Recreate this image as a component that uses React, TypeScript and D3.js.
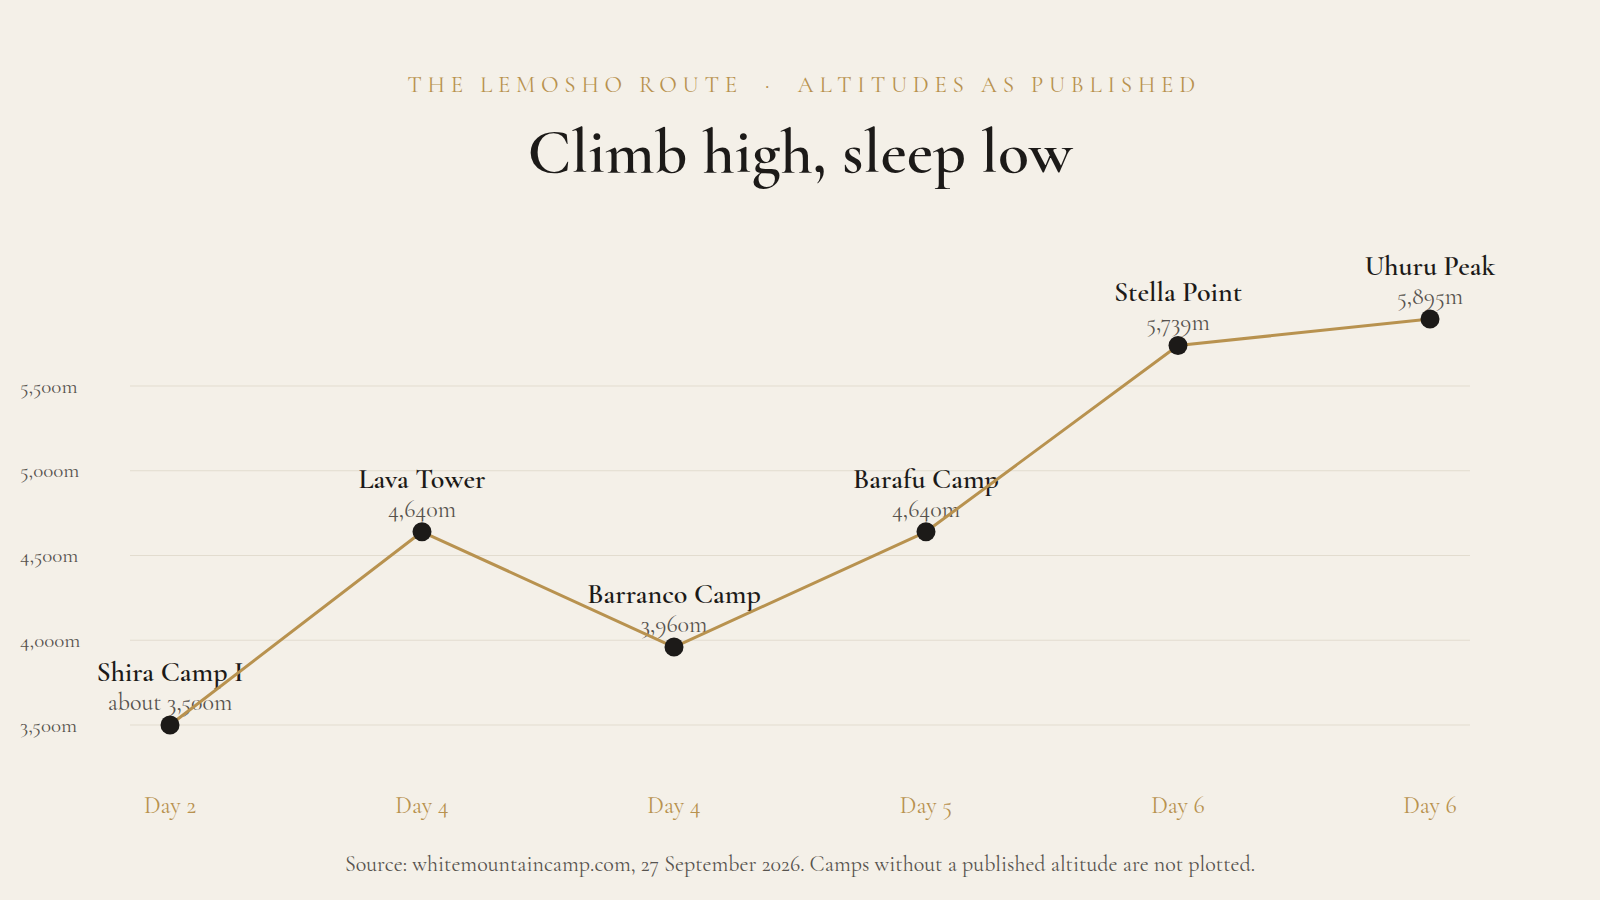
import { useEffect, useRef } from "react";
import * as d3 from "d3";

// Camps with published altitudes (metres)
const CAMPS = ["Shira Camp I", "Lava Tower", "Barranco Camp", "Barafu Camp", "Stella Point", "Uhuru Peak"];
const DAYS = ["Day 2", "Day 4", "Day 4", "Day 5", "Day 6", "Day 6"];
const ALTITUDES = [3500, 4640, 3960, 4640, 5739, 5895];
const VALUE_LABELS = ["about 3,500m", "4,640m", "3,960m", "4,640m", "5,739m", "5,895m"];
const Y_TICKS = [3500, 4000, 4500, 5000, 5500];

const W = 1600;
const H = 900;
const FONT = "'Cormorant Garamond', 'Liberation Serif', 'DejaVu Serif', serif";
const BG = "#f4f0e8";
const GOLD = "#b8924f";
const INK = "#1c1a18";
const GREY = "#57534e";

export default function App() {
  const svgRef = useRef<SVGSVGElement>(null);

  useEffect(() => {
    document.body.style.margin = "0";
    document.body.style.background = BG;
    if (!svgRef.current) return;
    const svg = d3.select(svgRef.current);
    svg.selectAll("*").remove();

    svg.append("rect").attr("width", W).attr("height", H).attr("fill", BG);

    // Header
    svg.append("text")
      .attr("x", 804).attr("y", 92).attr("text-anchor", "middle")
      .style("white-space", "pre")
      .style("font-family", FONT).style("font-size", "23px").style("letter-spacing", "0.25em")
      .style("fill", GOLD)
      .text("THE LEMOSHO ROUTE  ·  ALTITUDES AS PUBLISHED");

    svg.append("text")
      .attr("x", 800).attr("y", 172).attr("text-anchor", "middle")
      .style("font-family", FONT).style("font-size", "64px").style("font-weight", "600")
      .style("fill", INK)
      .text("Climb high, sleep low");

    const x = d3.scalePoint<number>()
      .domain(d3.range(CAMPS.length))
      .range([170, 1430]);
    const y = d3.scaleLinear().domain([3500, 5500]).range([725, 386]);

    // Grid + y labels
    const grid = svg.append("g");
    Y_TICKS.forEach((t) => {
      grid.append("line")
        .attr("x1", 130).attr("x2", 1470).attr("y1", y(t)).attr("y2", y(t))
        .attr("stroke", "#e2dccf").attr("stroke-width", 1);
      grid.append("text")
        .attr("x", 20).attr("y", y(t)).attr("dy", "0.32em")
        .style("font-family", FONT).style("font-size", "21px").style("fill", GREY)
        .text(`${d3.format(",")(t)}m`);
    });

    // Day labels
    DAYS.forEach((d, i) => {
      svg.append("text")
        .attr("x", x(i)!).attr("y", 813).attr("text-anchor", "middle")
        .style("font-family", FONT).style("font-size", "24px").style("fill", GOLD)
        .text(d);
    });

    // Point labels (behind line)
    CAMPS.forEach((c, i) => {
      const px = x(i)!;
      const py = y(ALTITUDES[i]);
      svg.append("text")
        .attr("x", px).attr("y", py - 44).attr("text-anchor", "middle")
        .style("font-family", FONT).style("font-size", "28px").style("font-weight", "600")
        .style("fill", INK)
        .text(c);
      svg.append("text")
        .attr("x", px).attr("y", py - 15).attr("text-anchor", "middle")
        .style("font-family", FONT).style("font-size", "24px").style("fill", GREY)
        .text(VALUE_LABELS[i]);
    });

    // Line
    const line = d3.line<number>().x((_, i) => x(i)!).y((d) => y(d));
    svg.append("path")
      .datum(ALTITUDES)
      .attr("d", line)
      .attr("fill", "none").attr("stroke", GOLD).attr("stroke-width", 3)
      .attr("stroke-linejoin", "round");

    // Dots
    svg.selectAll(".dot")
      .data(ALTITUDES)
      .enter()
      .append("circle")
      .attr("cx", (_, i) => x(i)!).attr("cy", (d) => y(d))
      .attr("r", 9.5).attr("fill", INK);

    // Source
    svg.append("text")
      .attr("x", 800).attr("y", 871).attr("text-anchor", "middle")
      .style("font-family", FONT).style("font-size", "22px").style("fill", GREY)
      .text("Source: whitemountaincamp.com, 27 September 2026. Camps without a published altitude are not plotted.");

    return () => {
      svg.selectAll("*").remove();
    };
  }, []);

  return (
    <div style={{ width: W, height: H, background: BG }}>
      <svg ref={svgRef} width={W} height={H} style={{ display: "block" }} />
    </div>
  );
}
